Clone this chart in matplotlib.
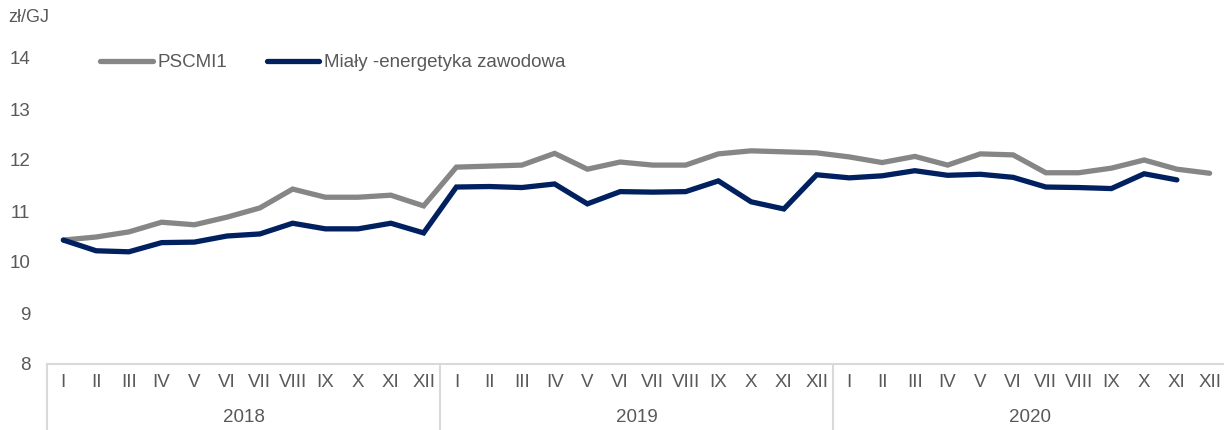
import matplotlib
matplotlib.use("Agg")
import matplotlib.pyplot as plt
import matplotlib.transforms as mtransforms
import numpy as np

years = ["2018", "2019", "2020"]
months = ["I", "II", "III", "IV", "V", "VI", "VII", "VIII", "IX", "X", "XI", "XII"]

pscmi1 = [10.43, 10.49, 10.59, 10.78, 10.73, 10.88, 11.06, 11.43, 11.27, 11.27, 11.31, 11.10,
          11.86, 11.88, 11.90, 12.13, 11.82, 11.96, 11.90, 11.90, 12.12, 12.18, 12.16, 12.14,
          12.06, 11.95, 12.07, 11.90, 12.12, 12.10, 11.75, 11.75, 11.84, 12.00, 11.82, 11.74]
mialy = [10.43, 10.22, 10.20, 10.38, 10.39, 10.51, 10.55, 10.76, 10.65, 10.65, 10.76, 10.57,
         11.47, 11.48, 11.46, 11.53, 11.14, 11.38, 11.37, 11.38, 11.59, 11.18, 11.04, 11.71,
         11.65, 11.69, 11.79, 11.70, 11.72, 11.66, 11.47, 11.46, 11.44, 11.73, 11.61]

plt.rcParams['font.family'] = ['Liberation Sans', 'DejaVu Sans']
txt_col = "#595959"
box_col = "#d9d9d9"
fs = 13.5

fig = plt.figure(figsize=(12.24, 4.30), dpi=100)
ax = fig.add_axes([47 / 1224, 66 / 430, 1179 / 1224, 306 / 430])

x1 = np.arange(len(pscmi1))
x2 = np.arange(len(mialy))
ax.plot(x1, pscmi1, color="#868686", lw=3.8, solid_capstyle="round",
        solid_joinstyle="miter", label="PSCMI1")
ax.plot(x2, mialy, color="#002060", lw=3.8, solid_capstyle="round",
        solid_joinstyle="miter", label="Miały -energetyka zawodowa")

n = len(years) * len(months)
ax.set_xlim(-0.5, n - 0.5)
ax.set_ylim(8, 14)
ax.set_yticks(range(8, 15))
ax.tick_params(axis="y", length=0, labelsize=fs, labelcolor=txt_col, pad=12)
ax.set_xticks([])

for s in ["top", "right", "left"]:
    ax.spines[s].set_visible(False)
ax.spines["bottom"].set_color(box_col)
ax.spines["bottom"].set_linewidth(1.5)

# category axis: months and years
trans = mtransforms.blended_transform_factory(ax.transData, ax.transAxes)
for yi, yr in enumerate(years):
    for mi, m in enumerate(months):
        ax.text(yi * 12 + mi, -0.062, m, transform=trans, ha="center", va="center",
                fontsize=fs, color=txt_col)
    ax.text(yi * 12 + 5.5, -0.176, yr, transform=trans, ha="center", va="center",
            fontsize=fs, color=txt_col)
for b in range(len(years) + 1):
    ax.plot([b * 12 - 0.5] * 2, [0, -0.25], transform=trans, color=box_col,
            lw=1.5, clip_on=False)

fig.text(8 / 1224, 1 - 18 / 430, "zł/GJ", fontsize=13, color=txt_col,
         ha="left", va="center")

leg = ax.legend(loc="center left", bbox_to_anchor=(0.045, 0.984), ncol=2,
                frameon=False, fontsize=fs, handlelength=2.8, handletextpad=0.27,
                columnspacing=2.1, borderaxespad=0, borderpad=0)
for t in leg.get_texts():
    t.set_color(txt_col)

fig.savefig("out.png", dpi=100)
